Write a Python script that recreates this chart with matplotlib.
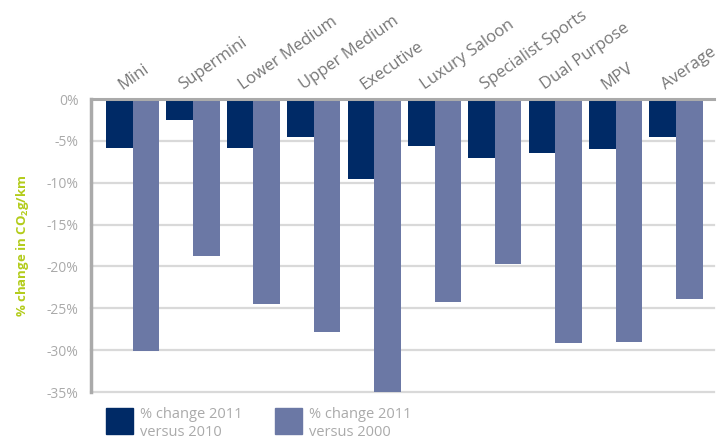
import numpy as np
import matplotlib
matplotlib.use("Agg")
import matplotlib.pyplot as plt
from matplotlib.patches import Rectangle

# Datos del gráfico
categorias = ["Mini", "Supermini", "Lower Medium", "Upper Medium", "Executive",
              "Luxury Saloon", "Specialist Sports", "Dual Purpose", "MPV", "Average"]
cambio_2010 = [-5.8, -2.5, -5.9, -4.5, -9.6, -5.6, -7.1, -6.4, -6.0, -4.5]
cambio_2000 = [-30.1, -18.7, -24.5, -27.8, -35.0, -24.2, -19.7, -29.1, -29.0, -23.9]
ticks_y = [0, -5, -10, -15, -20, -25, -30, -35]
leyenda = ["% change 2011\nversus 2010", "% change 2011\nversus 2000"]

azul_oscuro = "#002a66"
azul_claro = "#6b78a5"
gris_texto = "#aaaaaa"

plt.rcParams['font.family'] = ['Open Sans', 'DejaVu Sans']
plt.rcParams['mathtext.default'] = 'regular'

fig = plt.figure(figsize=(7.23, 4.47), dpi=100)
ax = fig.add_axes([0.1259, 0.123, 0.8617, 0.6555])

x = np.arange(len(categorias))
w = 0.44
b1 = ax.bar(x - w/2, cambio_2010, w, color=azul_oscuro, zorder=2)
b2 = ax.bar(x + w/2, cambio_2000, w, color=azul_claro, zorder=2)

ax.set_xlim(-0.69, 9.63)
ax.set_ylim(-35, 0)
ax.set_yticks(ticks_y)
ax.set_yticklabels([f"{t}%" for t in ticks_y])
ax.set_xticks([])
ax.tick_params(axis='y', length=0, pad=9, labelsize=10, labelcolor=gris_texto)

# Rejilla horizontal
for t in ticks_y[1:]:
    ax.axhline(t, color="#d9d9d9", lw=1.6, zorder=1, clip_on=False)
ax.axhline(0, color="#aaaaaa", lw=2.2, zorder=3, clip_on=False)

for s in ["top", "right", "bottom"]:
    ax.spines[s].set_visible(False)
ax.spines["left"].set_color("#aaaaaa")
ax.spines["left"].set_linewidth(2.5)

# Etiquetas de categoría inclinadas
for i, c in enumerate(categorias):
    ax.text(i - 0.17, 1.1, c, rotation=35, rotation_mode='anchor',
            ha='left', va='baseline', fontsize=12, color="#777777", clip_on=False)

ax.set_ylabel("% change in CO$_2$g/km", color="#b3cc1b", fontsize=9.5,
              fontweight='bold', labelpad=11)

# Leyenda manual
for k, (col, txt) in enumerate(zip([azul_oscuro, azul_claro], leyenda)):
    x0 = (106 + k * 169) / 723
    fig.add_artist(Rectangle((x0, 0.0291), 27 / 723, 26 / 447,
                             transform=fig.transFigure, color=col))
    fig.text(x0 + 34 / 723, 0.0895, txt, ha='left', va='top', fontsize=10.5,
             color=gris_texto, linespacing=1.25)

fig.savefig("out.png", dpi=100)
